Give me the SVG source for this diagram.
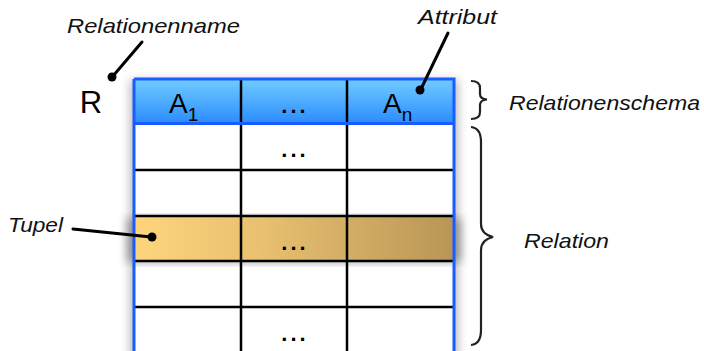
<svg xmlns="http://www.w3.org/2000/svg" width="704" height="351" viewBox="0 0 704 351">
  <style>
    .lbl { font-family: "Liberation Sans", "DejaVu Sans", sans-serif; font-style: italic; font-size: 21px; fill: #111; }
    .cell { font-family: "Liberation Sans", "DejaVu Sans", sans-serif; font-size: 28px; fill: #000; }
    .sub { font-size: 19px; }
    .dots { font-family: "Liberation Sans", "DejaVu Sans", sans-serif; font-size: 22px; font-weight: bold; fill: #000; letter-spacing: 3px; }
    .grid { stroke: #000; stroke-width: 2.5; fill: none; }
    .ptr { stroke: #000; stroke-width: 3; fill: none; stroke-linecap: round; }
    .brace { stroke: #222; stroke-width: 2.2; fill: none; }
  </style>
  <defs>
    <linearGradient id="hdr" x1="0" y1="0" x2="0" y2="1">
      <stop offset="0" stop-color="#72cbff"/>
      <stop offset="1" stop-color="#2a8cff"/>
    </linearGradient>
    <linearGradient id="tup" x1="0" y1="0" x2="1" y2="0">
      <stop offset="0" stop-color="#fdd57c"/>
      <stop offset="0.4" stop-color="#e8c070"/>
      <stop offset="1" stop-color="#b89656"/>
    </linearGradient>
    <filter id="sh" x="-10%" y="-10%" width="120%" height="120%">
      <feGaussianBlur stdDeviation="5"/>
    </filter>
  </defs>

  <g id="table">
    <rect x="130" y="80" width="328" height="290" fill="#888" opacity="0.6" filter="url(#sh)"/>
    <rect x="134" y="79" width="320" height="280" fill="#fff"/>
    <rect x="134" y="79" width="320" height="45" fill="url(#hdr)"/>
    <g id="tupel-row">
      <rect x="127" y="218" width="334" height="44" fill="#777" opacity="0.7" filter="url(#sh)"/>
      <rect x="134" y="216" width="320" height="45" fill="url(#tup)"/>
    </g>
    <path class="grid" d="M241,79 V351 M347,79 V351 M134,170 H454 M134,216 H454 M134,261 H454 M134,307 H454"/>
    <path d="M134,79 H454 V351 M134,351 V79 M134,123.5 H454" stroke="#1a5cff" stroke-width="3" fill="none"/>
  </g>

  <g id="header-cells">
    <text class="cell" x="169" y="113">A<tspan class="sub" dy="8">1</tspan></text>
    <text class="dots" x="295" y="113" text-anchor="middle">...</text>
    <text class="cell" x="383" y="113">A<tspan class="sub" dy="8">n</tspan></text>
  </g>

  <g id="cells">
    <text class="dots" x="295" y="157" text-anchor="middle">...</text>
    <text class="dots" x="295" y="250" text-anchor="middle">...</text>
    <text class="dots" x="295" y="341" text-anchor="middle">...</text>
  </g>

  <g id="R">
    <text class="cell" x="91" y="113" text-anchor="middle" style="font-size:31px">R</text>
  </g>

  <g id="connectors">
    <path class="ptr" d="M142,42 L113,76"/>
    <circle cx="112" cy="77" r="4.5" fill="#000"/>
    <path class="ptr" d="M448,33 L421,89"/>
    <circle cx="420" cy="90" r="4.5" fill="#000"/>
    <path class="ptr" d="M73,229 L151,237"/>
    <circle cx="152" cy="237" r="4.5" fill="#000"/>
    <path class="brace" d="M471,81 Q480,81 480,88 V94 Q480,99 487,99.5 Q480,100 480,105 V112 Q480,119 471,119"/>
    <path class="brace" d="M471,127 Q481,128 481,142 V224 Q481,234 493,237 Q481,240 481,250 V330 Q481,344 471,345"/>
  </g>

  <g id="labels">
    <text class="lbl" x="67" y="33" textLength="173" lengthAdjust="spacingAndGlyphs">Relationenname</text>
    <text class="lbl" x="418" y="24" textLength="79" lengthAdjust="spacingAndGlyphs">Attribut</text>
    <text class="lbl" x="509" y="110" textLength="191" lengthAdjust="spacingAndGlyphs">Relationenschema</text>
    <text class="lbl" x="8" y="232" textLength="55" lengthAdjust="spacingAndGlyphs">Tupel</text>
    <text class="lbl" x="524" y="248" textLength="85" lengthAdjust="spacingAndGlyphs">Relation</text>
  </g>
</svg>
